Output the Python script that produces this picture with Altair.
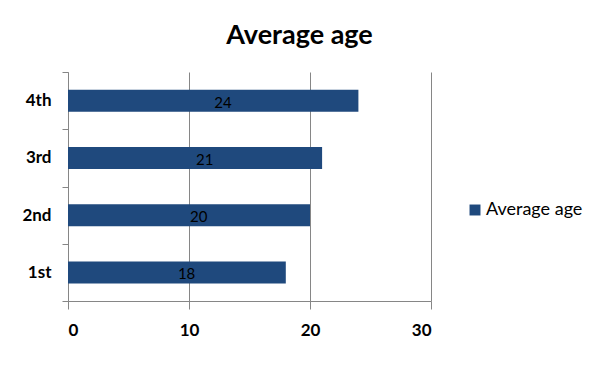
import altair as alt
import pandas as pd

categories = ["1st", "2nd", "3rd", "4th"]
values = [18, 20, 21, 24]
series_name = "Average age"

df = pd.DataFrame({"cat": categories, "value": values, "series": [series_name] * len(values)})

FONT = "Lato"
order = ["4th", "3rd", "2nd", "1st"]

y_enc = alt.Y(
    "cat:N",
    sort=order,
    title=None,
    scale=alt.Scale(paddingInner=0, paddingOuter=0),
    axis=alt.Axis(
        tickBand="extent",
        labelFont=FONT,
        labelFontSize=17,
        labelFontWeight="bold",
        labelColor="#000000",
        labelPadding=11,
        tickSize=6,
        tickColor="#868686",
        domainColor="#868686",
        grid=False,
    ),
)

x_enc = alt.X(
    "value:Q",
    title=None,
    scale=alt.Scale(domain=[0, 30], nice=False),
    axis=alt.Axis(
        values=[0, 10, 20, 30],
        labelFont=FONT,
        labelFontSize=17,
        labelFontWeight="bold",
        labelColor="#000000",
        labelPadding=13,
        tickSize=8,
        tickColor="#868686",
        domainColor="#868686",
        grid=True,
        gridColor="#868686",
        gridOpacity=1,
    ),
)

bars = alt.Chart(df).mark_bar(color="#1F497D", size=22).encode(
    x=x_enc,
    y=y_enc,
    color=alt.Color(
        "series:N",
        scale=alt.Scale(range=["#1F497D"]),
        legend=alt.Legend(
            title=None,
            orient="none",
            legendX=398,
            legendY=129,
            symbolType="square",
            symbolSize=120,
            symbolStrokeWidth=0,
            labelFont=FONT,
            labelFontSize=18,
            labelOffset=2,
            labelColor="#000000",
        ),
    ),
)

labels = alt.Chart(df).transform_calculate(mid="datum.value / 2 + 0.8").mark_text(
    font=FONT, fontSize=15, color="#000000", dy=2
).encode(
    x=alt.X("mid:Q"),
    y=alt.Y("cat:N", sort=order),
    text=alt.Text("value:Q"),
)

chart = (
    alt.layer(bars, labels)
    .properties(
        width=363,
        height=229,
        autosize=alt.AutoSizeParams(type="none"),
        padding={"left": 60, "top": 64, "right": 162, "bottom": 57},
        title=alt.TitleParams(
            series_name,
            font=FONT,
            fontSize=27,
            fontWeight="bold",
            color="#000000",
            anchor="middle",
            dx=50,
            offset=13,
        ),
    )
    .configure_view(stroke=None)
)

chart.save("out.html", embed_options={"renderer": "svg", "actions": False})
